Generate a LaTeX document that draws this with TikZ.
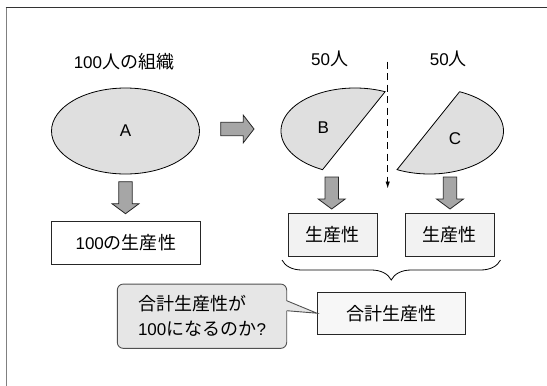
\documentclass[tikz,border=0pt]{standalone}
\usepackage{fontspec}
\setmainfont{Liberation Sans}
\newfontfamily\cjk{Noto Sans CJK JP}[Scale=1.06]
\usetikzlibrary{shapes.geometric,decorations.pathreplacing,arrows.meta,calc}
\newcommand{\jtext}[1]{{\cjk #1}}
\definecolor{ellfill}{HTML}{DFDFDF}
\definecolor{arrfill}{HTML}{A6A6A6}
\definecolor{boxfill}{HTML}{F2F2F2}
\definecolor{sumfill}{HTML}{F7F7F7}
\definecolor{callfill}{HTML}{E6E6E6}
\definecolor{callline}{HTML}{505050}
\tikzset{
  txt/.style={font=\fontsize{17}{25}\selectfont, inner sep=0pt},
  shapestyle/.style={draw=black, fill=ellfill, line width=0.8pt},
  arrstyle/.style={draw=black!85, fill=arrfill, line width=0.8pt, line join=miter},
  pbox/.style={txt, draw=black!85, line width=0.9pt, minimum height=43pt},
  callbox/.style={txt, draw=callline, fill=callfill, line width=0.9pt, rounded corners=6pt, align=left},
  pics/downarr/.style={code={
    \filldraw[arrstyle] (-6.7,0) -- (-6.7,22) -- (-13.5,22) -- (0,32) -- (13.5,22) -- (6.7,22) -- (6.7,0) -- cycle;}},
}
\begin{document}
\begin{tikzpicture}[x=1pt,y=-1pt]
\useasboundingbox (0,0) rectangle (547,386);
% frame
\draw[draw=black!80, line width=1.6pt] (5.7,7.5) -- (547,7.5);
\draw[draw=black!50, line width=1.8pt] (6.5,7.5) -- (6.5,386);

% titles
\node[txt] (t100) at (124,61.7) {100\jtext{人の組織}};
\node[txt] (t50a) at (329.7,59.3) {50\jtext{人}};
\node[txt] (t50b) at (448.4,59.3) {50\jtext{人}};

% ellipse A
\node[ellipse, shapestyle, txt, minimum width=148pt, minimum height=86pt] (A) at (125.5,131) {A};

% split pieces B and C
\filldraw[shapestyle] plot[domain=-66:-244, samples=90] ({355+74*cos(\x)},{131+43*sin(\x)}) -- cycle;
\node[txt] (B) at (323.3,127.7) {B};
\filldraw[shapestyle] plot[domain=-66:116, samples=90] ({429.5+74*cos(\x)},{131+43*sin(\x)}) -- cycle;
\node[txt] (C) at (455,139) {C};

% right block arrow
\filldraw[arrstyle] (220.7,122.3) -- (243.3,122.3) -- (243.3,115.2) -- (254,129) -- (243.3,142.8) -- (243.3,135.7) -- (220.7,135.7) -- cycle;

% dashed cut arrow
\coordinate (cutTop) at (387.7,61.7);
\coordinate (cutBot) at (387.7,188.5);
\draw[line width=0.9pt, dash pattern=on 7pt off 4.5pt, -{Latex[length=7pt,width=4.5pt]}] (cutTop) -- (cutBot);

% down block arrows
\pic at (125.5,181.7) {downarr};
\pic at (331.7,177) {downarr};
\pic at (450,177) {downarr};

% productivity boxes
\node[pbox, fill=white, minimum width=148.3pt] (pA) at (125.8,242.5) {100\jtext{の生産性}};
\node[pbox, fill=boxfill, minimum width=89.5pt] (pB) at (332.75,234.5) {\jtext{生産性}};
\node[pbox, fill=boxfill, minimum width=89pt] (pC) at (449.9,234.5) {\jtext{生産性}};

% brace
\coordinate (brL) at (282,260);
\coordinate (brR) at (500.5,260);
\draw[line width=0.8pt, decorate, decoration={brace, mirror, amplitude=20pt}] (brL) -- (brR);

% sum box
\node[pbox, fill=sumfill, minimum width=147.7pt, minimum height=41.7pt] (sum) at (391.2,313.2) {\jtext{合計生産性}};

% callout
\node[callbox, minimum width=169.4pt, minimum height=64.3pt] (call) at (202,316.2) {\jtext{合計生産性が}\\100\jtext{になるのか}?};
\coordinate (pu) at (286.7,300.7);
\coordinate (pl) at (286.7,310.7);
\fill[callfill] ($(pu)+(-1.2,0)$) -- (sum.west) -- ($(pl)+(-1.2,0)$) -- cycle;
\draw[callline, line width=0.9pt] (pu) -- (sum.west) -- (pl);
\end{tikzpicture}
\end{document}
